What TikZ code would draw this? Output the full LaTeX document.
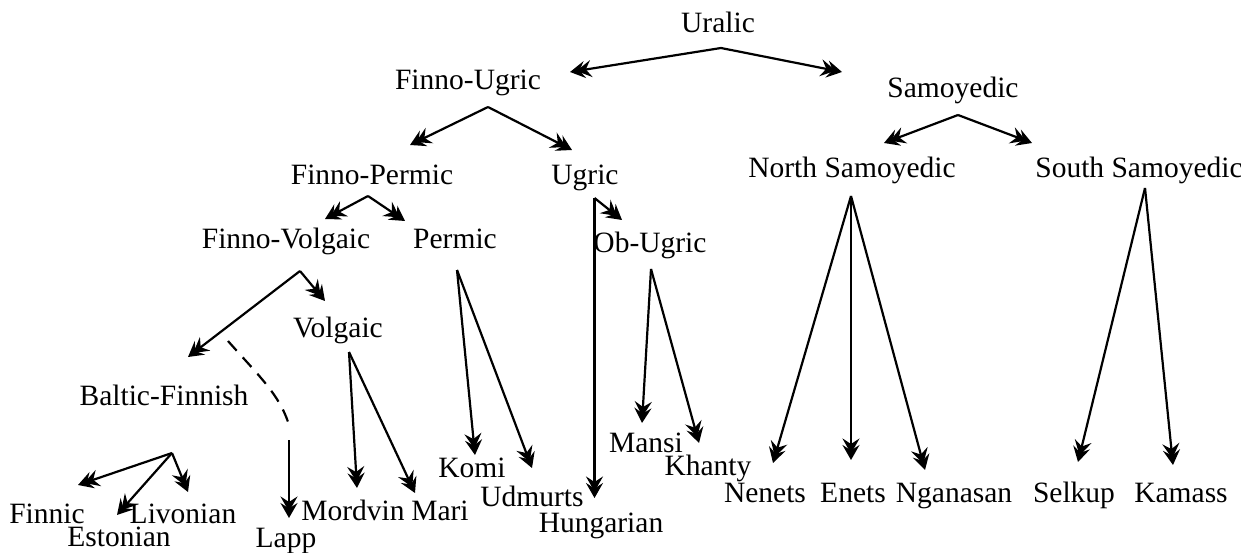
\documentclass[tikz,border=0pt]{standalone}
\usepackage{fontspec}
\setmainfont{Liberation Serif}
\usetikzlibrary{arrows.meta}
\begin{document}
\begin{tikzpicture}[x=1pt,y=-1pt,
  lbl/.style={anchor=base,inner sep=0pt,font=\fontsize{29.5pt}{34pt}\selectfont},
  branch/.style={line width=2.2pt,
    -{Stealth[length=15pt,width=17pt,inset=5.5pt,sep=-8.5pt]Stealth[length=15pt,width=17pt,inset=5.5pt]}},
  link/.style={line width=2.2pt}]
\useasboundingbox (0,0) rectangle (1241,553);

% language labels
\node[lbl] (uralic)   at (718,33)  {Uralic};
\node[lbl] (fu)       at (468,90)  {Finno-Ugric};
\node[lbl] (samo)     at (953,98)  {Samoyedic};
\node[lbl] (fp)       at (372,185) {Finno-Permic};
\node[lbl] (ugric)    at (585,185) {Ugric};
\node[lbl] (nsamo)    at (852,178) {North Samoyedic};
\node[lbl] (ssamo)    at (1139,178){South Samoyedic};
\node[lbl] (fv)       at (286,248) {Finno-Volgaic};
\node[lbl] (permic)   at (455,249) {Permic};
\node[lbl] (obugric)  at (650,252) {Ob-Ugric};
\node[lbl] (volgaic)  at (338,337) {Volgaic};
\node[lbl] (baltic)   at (164,405) {Baltic-Finnish};
\node[lbl] (komi)     at (472,477) {Komi};
\node[lbl] (mansi)    at (646,452) {Mansi};
\node[lbl] (khanty)   at (708,475) {Khanty};
\node[lbl] (udmurts)  at (532,506) {Udmurts};
\node[lbl] (hungarian) at (601,532) {Hungarian};
\node[lbl] (nenets)   at (765,502) {Nenets};
\node[lbl] (enets)    at (853,502) {Enets};
\node[lbl] (nganasan) at (954,502) {Nganasan};
\node[lbl] (selkup)   at (1074,502){Selkup};
\node[lbl] (kamass)   at (1181,502){Kamass};
\node[lbl] (finnic)   at (47,523)  {Finnic};
\node[lbl] (livonian) at (183,523) {Livonian};
\node[lbl] (estonian) at (119,546) {Estonian};
\node[lbl] (mordvin)  at (353,520) {Mordvin};
\node[lbl] (mari)     at (440,520) {Mari};
\node[lbl] (lapp)     at (286,547) {Lapp};

% branching points under each parent
\coordinate (uralic-s)  at (721,48);
\coordinate (fu-s)      at (488,107);
\coordinate (samo-s)    at (958,115);
\coordinate (fp-s)      at (368,196);
\coordinate (ugric-s)   at (594.5,198);
\coordinate (fv-s)      at (300,271);
\coordinate (permic-s)  at (457,270);
\coordinate (obugric-s) at (651,269);
\coordinate (volgaic-s) at (349,352);
\coordinate (nsamo-s)   at (851,196);
\coordinate (ssamo-s)   at (1145,188);
\coordinate (baltic-s)  at (172,453);
\coordinate (lapp-a)    at (228,341);
\coordinate (lapp-b)    at (289,425);
\coordinate (lapp-c)    at (289,440);

% arrow ends above each child
\coordinate (fu-t)       at (570,72);
\coordinate (samo-t)     at (842,72);
\coordinate (fp-t)       at (410,145);
\coordinate (ugric-t)    at (572,150);
\coordinate (nsamo-t)    at (884,143);
\coordinate (ssamo-t)    at (1032,143);
\coordinate (fv-t)       at (325,219);
\coordinate (permic-t)   at (405,221);
\coordinate (obugric-t)  at (622,220);
\coordinate (hungarian-t) at (594.5,498);
\coordinate (volgaic-t)  at (325,301);
\coordinate (baltic-t)   at (188,357);
\coordinate (komi-t)     at (475,455);
\coordinate (udmurts-t)  at (532,468);
\coordinate (mansi-t)    at (642,423);
\coordinate (khanty-t)   at (699,443);
\coordinate (mordvin-t)  at (357,488);
\coordinate (mari-t)     at (415,493);
\coordinate (nenets-t)   at (773,463);
\coordinate (enets-t)    at (851,460);
\coordinate (nganasan-t) at (925,470);
\coordinate (selkup-t)   at (1078,462);
\coordinate (kamass-t)   at (1173,465);
\coordinate (finnic-t)   at (78,485);
\coordinate (estonian-t) at (117,515);
\coordinate (livonian-t) at (188,492);
\coordinate (lapp-t)     at (289,518);

% branches
\draw[branch] (uralic-s) -- (fu-t);
\draw[branch] (uralic-s) -- (samo-t);
\draw[branch] (fu-s) -- (fp-t);
\draw[branch] (fu-s) -- (ugric-t);
\draw[branch] (samo-s) -- (nsamo-t);
\draw[branch] (samo-s) -- (ssamo-t);
\draw[branch] (fp-s) -- (fv-t);
\draw[branch] (fp-s) -- (permic-t);
\draw[branch] (ugric-s) -- (obugric-t);
\draw[branch] (ugric-s) -- (hungarian-t);
\draw[branch] (fv-s) -- (volgaic-t);
\draw[branch] (fv-s) -- (baltic-t);
\draw[branch] (permic-s) -- (komi-t);
\draw[branch] (permic-s) -- (udmurts-t);
\draw[branch] (obugric-s) -- (mansi-t);
\draw[branch] (obugric-s) -- (khanty-t);
\draw[branch] (volgaic-s) -- (mordvin-t);
\draw[branch] (volgaic-s) -- (mari-t);
\draw[branch] (nsamo-s) -- (nenets-t);
\draw[branch] (nsamo-s) -- (enets-t);
\draw[branch] (nsamo-s) -- (nganasan-t);
\draw[branch] (ssamo-s) -- (selkup-t);
\draw[branch] (ssamo-s) -- (kamass-t);
\draw[branch] (baltic-s) -- (finnic-t);
\draw[branch] (baltic-s) -- (estonian-t);
\draw[branch] (baltic-s) -- (livonian-t);

% uncertain descent of Lapp
\draw[link,dash pattern=on 13pt off 9pt] (lapp-a) .. controls (258,375) and (280,395) .. (lapp-b);
\draw[branch] (lapp-c) -- (lapp-t);
\end{tikzpicture}
\end{document}
